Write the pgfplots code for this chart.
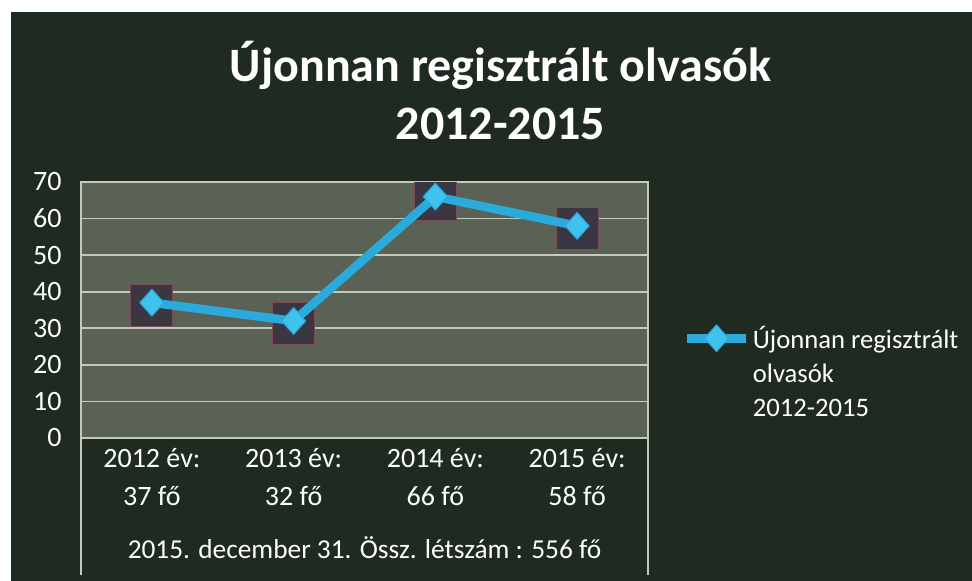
\documentclass[border=0pt]{standalone}
\usepackage{fontspec}
\setmainfont{Carlito}
\usepackage{pgfplots}
\pgfplotsset{compat=1.18}

\definecolor{bgc}{HTML}{1F2A21}
\definecolor{plotc}{HTML}{5A6155}
\definecolor{gridc}{HTML}{C6C8BE}
\definecolor{linec}{HTML}{2BAADC}
\definecolor{diac}{HTML}{3EC2EE}
\definecolor{shadc}{HTML}{3A3742}
\definecolor{shadb}{HTML}{7E4B55}

\begin{document}
\begin{tikzpicture}
% background (scan margin + dark chart area)
\fill[white] (0pt,0pt) rectangle (729pt,435.75pt);
\fill[bgc] (8.25pt,0pt) rectangle (729pt,426.75pt);

\node[font=\fontsize{36}{44}\selectfont\bfseries, text=white, anchor=base]
  at (375.4pt,374.5pt) {Újonnan regisztrált olvasók};
\node[font=\fontsize{36}{44}\selectfont\bfseries, text=white, anchor=base]
  at (375.4pt,331pt) {2012-2015};

\begin{axis}[
    name=ax,
    at={(60.75pt,107.25pt)}, anchor=south west,
    scale only axis,
    width=425.25pt, height=192pt,
    xmin=-0.5, xmax=3.5,
    ymin=0, ymax=70,
    xtick={0,1,2,3},
    xticklabels={{2012 év:\\37 fő},{2013 év:\\32 fő},{2014 év:\\66 fő},{2015 év:\\58 fő}},
    ytick={0,10,...,70},
    /pgf/number format/assume math mode=true,
    axis background/.style={fill=plotc},
    axis line style={gridc, line width=1.2pt},
    ymajorgrids,
    grid style={gridc, line width=1.2pt},
    tick style={draw=none},
    tick label style={text=white, font=\fontsize{21}{28.5}\selectfont},
    yticklabel style={xshift=-11pt},
    xticklabel style={align=center, yshift=-4pt},
    xlabel={2015. december 31. Össz. létszám : 556 fő},
    xlabel style={at={(axis description cs:0.5,0)}, anchor=center, yshift=-82.5pt,
                  text=white, font=\fontsize{20.5}{26}\selectfont},
    clip marker paths=true,
    legend style={at={(1.061,0.455)}, anchor=north west, draw=none, fill=none,
                  inner sep=0pt, text=white, font=\fontsize{20}{25.5}\selectfont,
                  cells={anchor=base west, inner xsep=1.5pt}},
    legend image code/.code={
        \draw[#1, mark repeat=2, mark phase=2]
            plot coordinates {(0pt,7.5pt) (22pt,7.5pt) (44pt,7.5pt)};
    },
]
% dark shadow squares behind the markers
\addplot[only marks, mark=square*, mark size=15.75pt, forget plot,
         mark options={fill=shadc, draw=shadb, line width=0.8pt, yshift=-2pt}]
    coordinates {(0,37) (1,32) (2,66) (3,58)};
\addplot[linec, line width=6.5pt, line join=round, mark=diamond*, mark size=10pt,
         mark options={xscale=1.2, fill=diac, draw=linec, line width=0.8pt}]
    coordinates {(0,37) (1,32) (2,66) (3,58)};
\addlegendentry{\begin{tabular}[t]{@{}l@{}}Újonnan regisztrált\\olvasók\\2012-2015\end{tabular}}
\end{axis}

% frame of the two-level category labels
\draw[gridc, line width=1.2pt] (ax.south west) -- ++(0pt,-102.75pt);
\draw[gridc, line width=1.2pt] (ax.south east) -- ++(0pt,-102.75pt);
\end{tikzpicture}
\end{document}
